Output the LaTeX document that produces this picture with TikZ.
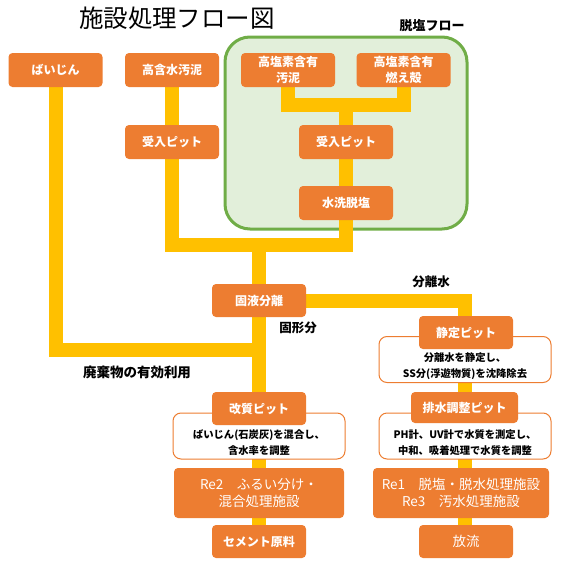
\documentclass[tikz,border=0pt]{standalone}
\usepackage{fontspec}
\setmainfont{Noto Sans CJK JP}
\definecolor{ora}{HTML}{ED7D31}
\definecolor{yel}{HTML}{FFC000}
\definecolor{grn}{HTML}{70AD47}
\definecolor{lgrn}{HTML}{E2EFDA}
\pgfdeclarelayer{bg}
\pgfdeclarelayer{mid}
\pgfsetlayers{bg,mid,main}
\tikzset{
  obox/.style={fill=ora, rounded corners=4pt, inner sep=0pt, text=white,
    font=\bfseries\fontsize{12}{15.5}\selectfont, minimum width=94pt, minimum height=34pt, align=center},
  bigbox/.style={obox, font=\fontsize{13.5}{17}\selectfont, minimum width=170pt, minimum height=50pt},
  dbox/.style={draw=ora, line width=1pt, fill=white, rounded corners=8pt, minimum width=172pt, minimum height=46pt, inner sep=0pt},
  dtext/.style={font=\bfseries\fontsize{10.3}{16}\selectfont, align=center, inner sep=0pt},
  lbl/.style={font=\bfseries\fontsize{12.5}{14}\selectfont, inner sep=0pt},
  yline/.style={draw=yel, line width=14pt},
}
\begin{document}
\begin{tikzpicture}[x=1pt,y=-1pt]
\useasboundingbox (0,0) rectangle (574,563);
% title and labels
\node (title) at (177,18) {\fontsize{24.5}{28}\selectfont 施設処理フロー図};
\node[lbl, font=\bfseries\fontsize{13}{14}\selectfont] (dflow) at (432,26) {脱塩フロー};
\node[lbl] (bunrisui) at (431,282) {分離水};
\node[lbl] (kokei) at (298,328) {固形分};
\node[lbl, font=\bfseries\fontsize{13.5}{15}\selectfont] (haiki) at (137,372) {廃棄物の有効利用};
% green area
\begin{pgfonlayer}{bg}
\node[draw=grn, fill=lgrn, line width=3pt, rounded corners=25pt, minimum width=242pt, minimum height=192pt, inner sep=0pt] (green) at (346,133) {};
\end{pgfonlayer}
% description boxes
\node[dbox] (d1) at (465,359.5) {};
\node[dtext] (d1t) at (465,366) {分離水を静定し、\\SS分(浮遊物質)を沈降除去};
\node[dbox] (d2) at (465,436) {};
\node[dtext] (d2t) at (465,442.5) {PH計、UV計で水質を測定し、\\中和、吸着処理で水質を調整};
\node[dbox] (d3) at (259,436) {};
\node[dtext] (d3t) at (259,442.5) {ばいじん(石炭灰)を混合し、\\含水率を調整};
% orange boxes
\node[obox] (baijin) at (55.5,70) {ばいじん};
\node[obox] (kougan) at (172,70) {高含水汚泥};
\node[obox] (kouen1) at (288,70) {高塩素含有\\汚泥};
\node[obox] (kouen2) at (403.5,70) {高塩素含有\\燃え殻};
\node[obox] (ukeire2) at (346,142) {受入ピット};
\node[obox] (suisen) at (346,203) {水洗脱塩};
\node[obox] (ukeire1) at (172,142) {受入ピット};
\node[obox, minimum height=33pt] (koeki) at (259,300.5) {固液分離};
\node[obox, minimum height=33pt] (seitei) at (466,332.5) {静定ピット};
\node[obox, minimum height=31pt, minimum width=107pt] (haisui) at (464.5,407.5) {排水調整ピット};
\node[obox, minimum height=33pt] (kaishitsu) at (259,408.5) {改質ピット};
\node[bigbox] (re2) at (259,493) {Re2　ふるい分け・\\混合処理施設};
\node[bigbox, minimum width=176pt] (re1) at (461,493) {Re1　脱塩・脱水処理施設\\Re3　汚水処理施設};
\node[obox, minimum height=33pt] (cement) at (259,541.5) {セメント原料};
\node[obox, minimum height=33pt, font=\fontsize{13.5}{17}\selectfont] (houryu) at (466,541.5) {放流};
% junctions
\coordinate (jA) at (346,104.5);
\coordinate (jB) at (346,245);
\coordinate (jC) at (259,245);
\coordinate (jD) at (259,349.5);
\coordinate (jE) at (465,300.5);
% yellow connectors
\begin{pgfonlayer}{mid}
\draw[yline] (baijin.south) |- (jD);
\draw[yline] (kougan.south) -- (ukeire1.north);
\draw[yline] (ukeire1.south) |- (jB) -- (suisen.south);
\draw[yline] (kouen1.south) |- (jA) -| (kouen2.south);
\draw[yline] (jA) -- (ukeire2.north);
\draw[yline] (ukeire2.south) -- (suisen.north);
\draw[yline] (jC) -- (cement.north);
\draw[yline] (koeki.east) -- (jE) -- (seitei.north -| jE);
\draw[yline] (seitei.south -| jE) -- (houryu.north -| jE);
\end{pgfonlayer}
\end{tikzpicture}
\end{document}
